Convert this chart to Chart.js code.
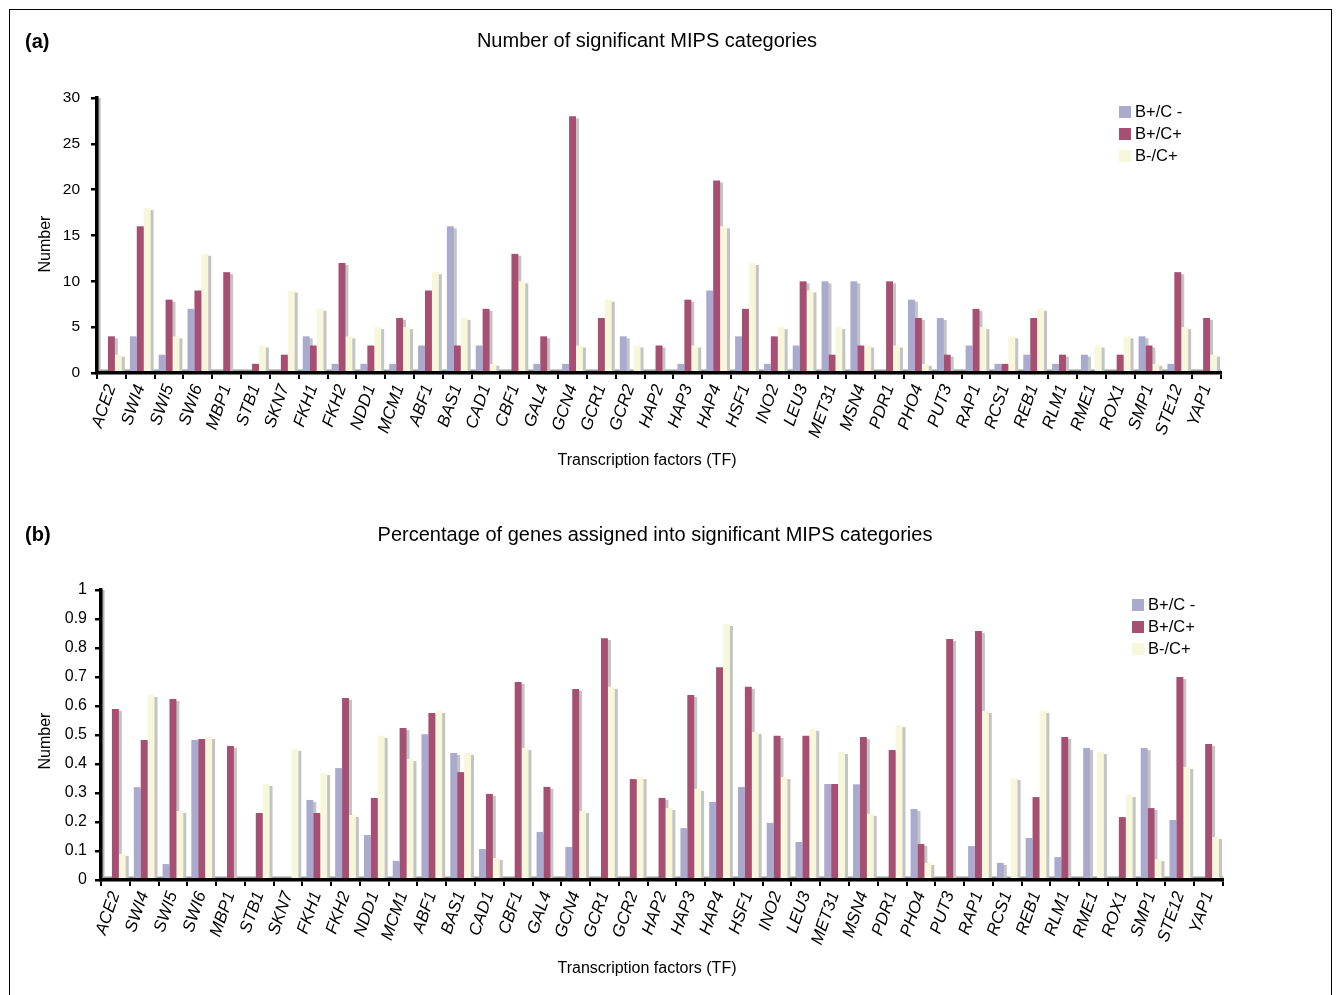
<!DOCTYPE html>
<html>
<head>
<meta charset="utf-8">
<script src="https://cdn.jsdelivr.net/npm/chart.js@4.4.0/dist/chart.umd.min.js"></script>
<style>
    body { margin: 0; background: #fff; font-family: 'Liberation Sans', Arial, sans-serif; }
    #frame { position: absolute; left: 9px; top: 9px; width: 1321px; height: 1000px; border: 1px solid #000; }
    .panel { position: absolute; left: 0; width: 1338px; }
    .tag { position: absolute; font-weight: bold; font-size: 20px; }
    .title { position: absolute; font-size: 20px; transform: translateX(-50%); white-space: nowrap; }
    .axis-title { position: absolute; font-size: 16px; white-space: nowrap; transform: translate(-50%, -50%); }
    .axis-title.vert { transform: translate(-50%, -50%) rotate(-90deg); }
    .legend { position: absolute; font-size: 16.5px; }
    .legend div { height: 22px; line-height: 22px; white-space: nowrap; }
    .legend span { display: inline-block; width: 12px; height: 12px; margin-right: 4px; vertical-align: -1px; }
</style>
</head>
<body>
<div id="frame"></div>

<div class="panel" style="top:0;height:490px"><canvas id="chart-a"></canvas></div>
<div class="panel" style="top:490px;height:505px"><canvas id="chart-b"></canvas></div>

<div class="tag" style="left:25px;top:30px">(a)</div>
<div class="title" style="left:647px;top:29px">Number of significant MIPS categories</div>
<div class="axis-title vert" style="left:45px;top:244px">Number</div>
<div class="axis-title" style="left:647px;top:460px">Transcription factors (TF)</div>

<div class="tag" style="left:25px;top:523px">(b)</div>
<div class="title" style="left:655px;top:523px">Percentage of genes assigned into significant MIPS categories</div>
<div class="axis-title vert" style="left:45px;top:741px">Number</div>
<div class="axis-title" style="left:647px;top:968px">Transcription factors (TF)</div>

<div class="legend" id="legend-a" style="left:1119px;top:100px"></div>
<div class="legend" id="legend-b" style="left:1132px;top:593px"></div>

<script>
// transcription factors
const tfLabels = ['ACE2', 'SWI4', 'SWI5', 'SWI6', 'MBP1', 'STB1', 'SKN7', 'FKH1', 'FKH2', 'NDD1',
    'MCM1', 'ABF1', 'BAS1', 'CAD1', 'CBF1', 'GAL4', 'GCN4', 'GCR1', 'GCR2', 'HAP2',
    'HAP3', 'HAP4', 'HSF1', 'INO2', 'LEU3', 'MET31', 'MSN4', 'PDR1', 'PHO4', 'PUT3',
    'RAP1', 'RCS1', 'REB1', 'RLM1', 'RME1', 'ROX1', 'SMP1', 'STE12', 'YAP1'];

const seriesNames = ['B+/C  -', 'B+/C+', 'B-/C+'];
const seriesColors = ['#aaaacf', '#a64f72', '#f7f7dc'];

// (a) number of significant categories
const numBpCm = [0, 4, 2, 7, 0, 0, 0, 4, 1, 1, 1, 3, 16, 3, 0, 1, 1, 0, 4, 0,
    1, 9, 4, 1, 3, 10, 10, 0, 8, 6, 3, 1, 2, 1, 2, 0, 4, 1, 0];
const numBpCp = [4, 16, 8, 9, 11, 1, 2, 3, 12, 3, 6, 9, 3, 7, 13, 4, 28, 6, 0, 3,
    8, 21, 7, 4, 10, 2, 3, 10, 6, 2, 7, 1, 6, 2, 0, 2, 3, 11, 6];
const numBmCp = [2, 18, 4, 13, 0, 3, 9, 7, 4, 5, 5, 11, 6, 1, 10, 0, 3, 8, 3, 0,
    3, 16, 12, 5, 9, 5, 3, 3, 1, 0, 5, 4, 7, 0, 3, 4, 1, 5, 2];

// (b) fraction of genes assigned
const pctBpCm = [0, 0.32, 0.055, 0.483, 0, 0, 0, 0.276, 0.386, 0.155, 0.066, 0.503, 0.438, 0.107, 0, 0.166, 0.114, 0, 0, 0,
    0.179, 0.269, 0.321, 0.197, 0.131, 0.331, 0.33, 0, 0.245, 0, 0.117, 0.059, 0.145, 0.079, 0.455, 0, 0.455, 0.207, 0];
const pctBpCp = [0.59, 0.483, 0.624, 0.486, 0.462, 0.231, 0, 0.231, 0.628, 0.283, 0.524, 0.576, 0.372, 0.297, 0.683, 0.321, 0.659, 0.834, 0.348, 0.283,
    0.638, 0.734, 0.666, 0.497, 0.497, 0.331, 0.493, 0.448, 0.124, 0.831, 0.859, 0, 0.286, 0.493, 0, 0.217, 0.248, 0.70, 0.469];
const pctBmCp = [0.09, 0.638, 0.238, 0.493, 0, 0.331, 0.452, 0.369, 0.224, 0.497, 0.417, 0.583, 0.438, 0.076, 0.455, 0, 0.238, 0.666, 0.355, 0.248,
    0.314, 0.883, 0.51, 0.355, 0.521, 0.441, 0.228, 0.534, 0.059, 0, 0.583, 0.352, 0.583, 0, 0.441, 0.293, 0.072, 0.39, 0.148];

const FONT = "'Liberation Sans', Arial, sans-serif";

// grey drop shadow behind every bar + grey floor/wall lines
const barShadow = {
    id: 'barShadow',
    beforeDatasetsDraw(chart) {
        const ctx = chart.ctx;
        const area = chart.chartArea;
        const base = chart.scales.y.getPixelForValue(0);
        ctx.save();
        ctx.fillStyle = '#9a9a9a';
        ctx.fillRect(area.left, base - 3.5, area.right - area.left, 2.5);
        ctx.fillStyle = '#b4b4b4';
        ctx.fillRect(area.left + 1, area.top, 2.5, base - area.top);
        ctx.fillStyle = '#c4c4c4';
        chart.data.datasets.forEach((ds, i) => {
            for (const bar of chart.getDatasetMeta(i).data) {
                const p = bar.getProps(['x', 'y', 'base', 'width'], true);
                if (p.base - p.y < 1) continue;
                ctx.fillRect(p.x - p.width / 2 + 3, p.y + 2, p.width, p.base - p.y - 2);
            }
        });
        ctx.restore();
    }
};

function makeDatasets(values) {
    return values.map((data, i) => ({
        label: seriesNames[i],
        data: data,
        backgroundColor: seriesColors[i],
        borderWidth: 0,
        barPercentage: 1,
        categoryPercentage: 0.72
    }));
}

function makeChart(id, values, opts) {
    return new Chart(document.getElementById(id), {
        type: 'bar',
        data: { labels: tfLabels, datasets: makeDatasets(values) },
        plugins: [barShadow],
        options: {
            responsive: true,
            maintainAspectRatio: false,
            animation: false,
            layout: { padding: opts.padding },
            plugins: { legend: { display: false }, tooltip: { enabled: false } },
            scales: {
                x: {
                    afterFit: (s) => { s.height = opts.xHeight; },
                    grid: { offset: true, drawOnChartArea: false, color: '#000', lineWidth: 2, tickLength: 6 },
                    border: { display: true, color: '#000', width: 3.5, z: 1 },
                    ticks: {
                        autoSkip: false, minRotation: 71, maxRotation: 71, padding: 3, color: '#000',
                        font: { family: FONT, size: 17, style: 'italic' }
                    }
                },
                y: {
                    min: 0, max: opts.max,
                    afterFit: (s) => { s.width = opts.yWidth; },
                    grid: { drawOnChartArea: false, color: '#000', lineWidth: 2.5, tickLength: 6 },
                    border: { display: true, color: '#000', width: 3.5, z: 1 },
                    ticks: {
                        stepSize: opts.step, padding: opts.yTickPad, color: '#000',
                        font: { family: FONT, size: opts.tickSize },
                        callback: (v) => String(Math.round(v * 10) / 10)
                    }
                }
            }
        }
    });
}

function buildLegend(id) {
    const box = document.getElementById(id);
    seriesNames.forEach((name, i) => {
        const row = document.createElement('div');
        const sw = document.createElement('span');
        sw.style.background = seriesColors[i];
        row.appendChild(sw);
        row.appendChild(document.createTextNode(name));
        box.appendChild(row);
    });
}

makeChart('chart-a', [numBpCm, numBpCp, numBmCp], {
    max: 30, step: 5, yWidth: 77, yTickPad: 11, tickSize: 15.5, xHeight: 117,
    padding: { left: 20, right: 117, top: 98, bottom: 0 }
});

makeChart('chart-b', [pctBpCm, pctBpCp, pctBmCp], {
    max: 1, step: 0.1, yWidth: 81, yTickPad: 8, tickSize: 16, xHeight: 115,
    padding: { left: 20, right: 115, top: 100, bottom: 0 }
});

buildLegend('legend-a');
buildLegend('legend-b');
</script>
</body>
</html>
